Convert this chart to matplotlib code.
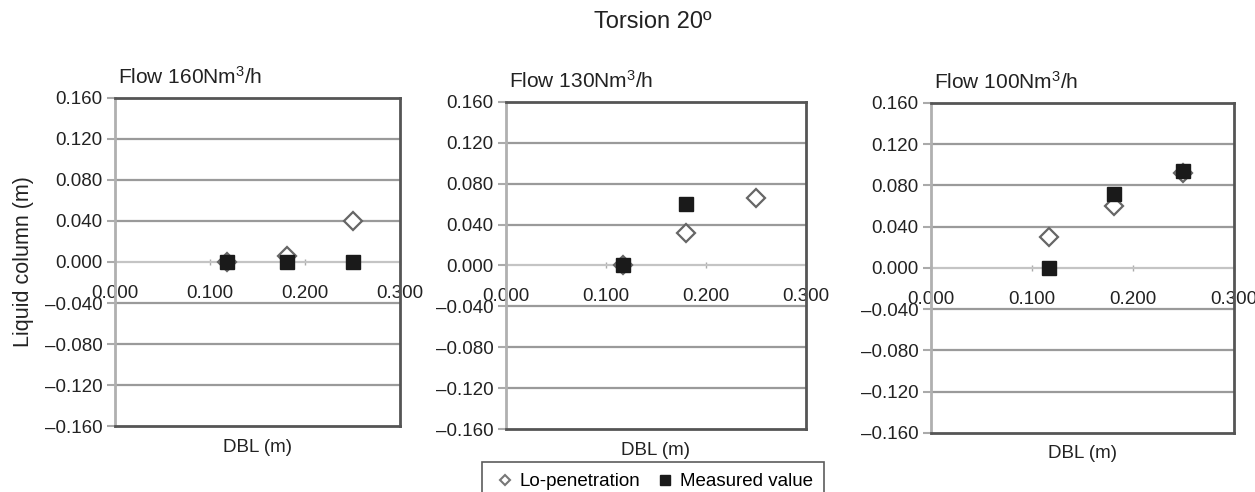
import matplotlib.pyplot as plt
from matplotlib.lines import Line2D

plt.rcParams['font.family'] = ['Liberation Sans', 'DejaVu Sans']
plt.rcParams['mathtext.fontset'] = 'custom'
plt.rcParams['mathtext.rm'] = 'Liberation Sans'
plt.rcParams['mathtext.it'] = 'Liberation Sans'

# data
flows = ["Flow 160Nm$^3$/h", "Flow 130Nm$^3$/h", "Flow 100Nm$^3$/h"]

dbl_lo = [[0.118, 0.181, 0.251], [0.117, 0.180, 0.250], [0.117, 0.181, 0.250]]
lo_pen = [[0.000, 0.006, 0.040], [0.000, 0.032, 0.066], [0.030, 0.060, 0.092]]

dbl_meas = [[0.118, 0.181, 0.251], [0.117, 0.180], [0.117, 0.181, 0.250]]
measured = [[0.000, 0.000, 0.000], [0.000, 0.060], [0.000, 0.072, 0.094]]

y_ticks = [-0.16, -0.12, -0.08, -0.04, 0.0, 0.04, 0.08, 0.12, 0.16]
x_ticks = [0.0, 0.1, 0.2, 0.3]

# axes boxes in figure fractions
boxes = [[0.0916, 0.134, 0.227, 0.667],
         [0.403, 0.128, 0.239, 0.665],
         [0.742, 0.120, 0.241, 0.671]]

fig = plt.figure(figsize=(12.55, 4.92), dpi=100)
fig.text(0.52, 0.955, "Torsion 20º", ha='center', va='center', fontsize=17, color='#222222')

for i in range(3):
    ax = fig.add_axes(boxes[i])
    ax.set_xlim(0, 0.3)
    ax.set_ylim(-0.16, 0.16)

    ylabels = [("–%.3f" % abs(v)) if v < 0 else "%.3f" % v for v in y_ticks]
    ax.set_yticks(y_ticks)
    ax.set_yticklabels(ylabels)
    ax.tick_params(axis='y', direction='out', length=6, width=1.5, color='#aaaaaa',
                   labelsize=13.5, labelcolor='#222222', pad=3)
    ax.set_xticks([])
    for y in y_ticks[1:-1]:
        if y == 0:
            continue
        ax.axhline(y, color='#9a9a9a', lw=1.6, zorder=1)

    # frame: light left edge, dark top/right/bottom
    ax.spines['left'].set_color('#b0b0b0')
    ax.spines['left'].set_linewidth(2)
    for s in ['top', 'right', 'bottom']:
        ax.spines[s].set_color('#555555')
        ax.spines[s].set_linewidth(2)

    # x axis crossing at zero
    sec = ax.secondary_xaxis(0.5)
    sec.set_alignment('bottom')
    sec.spines['bottom'].set_color('#c4c4c4')
    sec.spines['bottom'].set_linewidth(1.6)
    sec.set_xticks(x_ticks)
    sec.set_xticklabels(["%.3f" % v for v in x_ticks])
    sec.tick_params(direction='inout', length=5, width=1, color='#aaaaaa',
                    labelsize=13.5, labelcolor='#222222', pad=14)

    ax.plot(dbl_lo[i], lo_pen[i], linestyle='none', marker='D', ms=9,
            mfc='white', mec='#666666', mew=1.6, zorder=3, clip_on=False)
    ax.plot(dbl_meas[i], measured[i], linestyle='none', marker='s', ms=10.5,
            mfc='#1a1a1a', mec='#1a1a1a', mew=1, zorder=4, clip_on=False)

    ax.set_title(flows[i], loc='left', fontsize=15, color='#222222', pad=10, x=0.01)
    ax.set_xlabel("DBL (m)", fontsize=13.5, color='#222222', labelpad=9)
    if i == 0:
        ax.set_ylabel("Liquid column (m)", fontsize=15.5, color='#222222', labelpad=8)

handles = [Line2D([], [], linestyle='none', marker='D', ms=5.5, mfc='white', mec='#777777', mew=1.5),
           Line2D([], [], linestyle='none', marker='s', ms=7.5, mfc='#1a1a1a', mec='#1a1a1a')]
leg = fig.legend(handles, ["Lo-penetration", "Measured value"], loc='upper left',
                 bbox_to_anchor=(482 / 1255, 1 - 462 / 492), ncol=2, fontsize=13.5,
                 frameon=True, fancybox=False, handlelength=1.2, handletextpad=0.2,
                 columnspacing=0.7, borderpad=0.6, borderaxespad=0)
leg.get_frame().set_edgecolor('#333333')
leg.get_frame().set_linewidth(1.2)

fig.savefig('out.png', dpi=100)
